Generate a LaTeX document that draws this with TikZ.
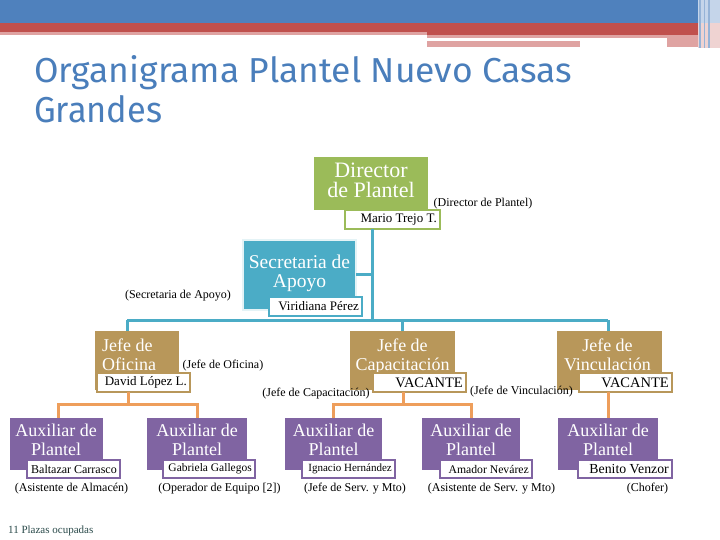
\documentclass[tikz,border=0pt]{standalone}
\usepackage{fontspec}
\setmainfont{Liberation Serif}
\newfontfamily\titlefont{Fira Sans}
\usetikzlibrary{calc}
\definecolor{hblue}{HTML}{4F81BD}
\definecolor{hred}{HTML}{C0504D}
\definecolor{hpink}{HTML}{DFA3A2}
\definecolor{hlpink}{HTML}{EFD3D2}
\definecolor{hlblue}{HTML}{C5D5EA}
\definecolor{hmblue}{HTML}{95B3D7}
\definecolor{titleblue}{HTML}{4A7EBB}
\definecolor{cgreen}{HTML}{9BBB59}
\definecolor{cteal}{HTML}{4BACC6}
\definecolor{cgold}{HTML}{B8975A}
\definecolor{cpurple}{HTML}{8064A2}
\definecolor{corange}{HTML}{EE9E5B}
\definecolor{cfoot}{HTML}{2B4B4B}
\tikzset{
  box/.style={rectangle, inner sep=0pt, outer sep=0pt, fill=#1},
  namebox/.style={rectangle, inner sep=0pt, outer sep=0pt, draw=#1, line width=2pt, fill=white},
  wtxt/.style={text=white, inner sep=0pt, align=center},
  ntxt/.style={inner sep=0pt, anchor=east},
  lbl/.style={inner sep=0pt, anchor=base, font=\fontsize{12}{14}\selectfont},
  tline/.style={draw=cteal, line width=3pt},
  oline/.style={draw=corange, line width=3pt},
}
\begin{document}
\begin{tikzpicture}[x=1pt,y=-1pt]
\useasboundingbox[fill=white] (0,0) rectangle (720,540);
% header bands
\fill[hblue] (0,0) rectangle (698,23);
\fill[hred] (0,23) rectangle (698,32);
\fill[hpink] (0,32) rectangle (427,35);
\fill[hred] (427,32) rectangle (698,35);
\fill[hpink] (427,35) rectangle (698,38);
\fill[hpink] (427,41) rectangle (580,47);
\fill[hpink] (667,38) rectangle (698,47);
\fill[hlblue] (698,0) rectangle (720,23);
\fill[hlpink] (698,23) rectangle (720,48);
\fill[hmblue] (699,0) rectangle (701,48);
\fill[hmblue] (704,0) rectangle (705,48);
\fill[hmblue] (708,0) rectangle (710,48);
% title
\node[anchor=base west, inner sep=0pt, text=titleblue, font=\titlefont] (title1) at (34,83) {\resizebox{538pt}{27pt}{Organigrama Plantel Nuevo Casas}};
\node[anchor=base west, inner sep=0pt, text=titleblue, font=\titlefont] (title2) at (34,123) {\resizebox{128pt}{27pt}{Grandes}};

% Director
\node[box=cgreen, minimum width=114pt, minimum height=53pt] (dir) at (371,183.5) {};
\node[wtxt, anchor=base, font=\fontsize{22}{20}\selectfont] (dirt) at (371,197) {Director\\de Plantel};
\node[namebox=cgreen, minimum width=95pt, minimum height=19pt] (mario) at (392.5,219.5) {};
\node[ntxt, font=\fontsize{13}{15}\selectfont] (mariot) at ($(mario.east)+(-3,0)$) {Mario Trejo T.};
\node[lbl] (dirl) at (483,207) {(Director de Plantel)};

% Secretaria
\node[box=cteal, draw=cteal!15, line width=2pt, minimum width=113pt, minimum height=70pt] (sec) at (299.5,275) {};
\node[wtxt, anchor=base, font=\fontsize{19.5}{19}\selectfont] (sect) at (299.5,287) {Secretaria de\\Apoyo};
\node[namebox=cteal, minimum width=93pt, minimum height=19pt] (vir) at (315.5,306.5) {};
\node[ntxt, font=\fontsize{13}{15}\selectfont] (virt) at ($(vir.east)+(-3,0)$) {Viridiana Pérez};
\node[lbl] (secl) at (178,298) {(Secretaria de Apoyo)};

% Jefes
\node[box=cgold, minimum width=84pt, minimum height=59pt] (jo) at (137,360.5) {};
\node[wtxt, anchor=base west, align=left, font=\fontsize{18}{18.5}\selectfont] (jot) at (102,370) {Jefe de\\Oficina};
\node[namebox=cgold, minimum width=93pt, minimum height=19pt] (dav) at (143.5,382.5) {};
\node[ntxt, font=\fontsize{13}{15}\selectfont] (davt) at ($(dav.east)+(-3,0)$) {David López L.};
\node[lbl] (jol) at (223,368) {(Jefe de Oficina)};

\node[box=cgold, minimum width=105pt, minimum height=59pt] (jc) at (402.5,360.5) {};
\node[wtxt, anchor=base, font=\fontsize{18}{18.5}\selectfont] (jct) at (402.5,370) {Jefe de\\Capacitación};
\node[namebox=cgold, minimum width=93pt, minimum height=19pt] (vc1) at (419.5,382.5) {};
\node[ntxt, font=\fontsize{14.5}{16}\selectfont] (vc1t) at ($(vc1.east)+(-3,0)$) {VACANTE};
\node[lbl] (jcl) at (316,396) {(Jefe de Capacitación)};

\node[box=cgold, minimum width=105pt, minimum height=59pt] (jv) at (609.5,360.5) {};
\node[wtxt, anchor=base, font=\fontsize{18}{18.5}\selectfont] (jvt) at (607.5,370) {Jefe de\\Vinculación};
\node[namebox=cgold, minimum width=93pt, minimum height=19pt] (vc2) at (625.5,382.5) {};
\node[ntxt, font=\fontsize{14.5}{16}\selectfont] (vc2t) at ($(vc2.east)+(-3,0)$) {VACANTE};
\node[lbl] (jvl) at (521.5,394) {(Jefe de Vinculación)};

% Auxiliares
\foreach \n/\cx/\w/\nx/\nw/\name/\fs/\lx/\lab in {
  1/56/93/73.5/93/Baltazar Carrasco/12/71.5/(Asistente de Almacén),
  2/197/100/209/92/Gabriela Gallegos/11.5/219.5/(Operador de Equipo [2]),
  3/333.5/97/348.5/93/Ignacio Hernández/11/355/(Jefe de Serv. y Mto),
  4/471/98/486/92/Amador Nevárez/11.7/491.5/(Asistente de Serv. y Mto),
  5/608/100/625/94/Benito Venzor/13.8/647.5/(Chofer)}{
  \node[box=cpurple, minimum width=\w pt, minimum height=52pt] (a\n) at (\cx,444) {};
  \node[wtxt, anchor=base, font=\fontsize{18}{18.3}\selectfont] (at\n) at (\cx,455) {Auxiliar de\\Plantel};
  \node[namebox=cpurple, minimum width=\nw pt, minimum height=18pt] (n\n) at (\nx,469) {};
  \node[ntxt, font=\fontsize{\fs}{\fs}\selectfont] (nt\n) at ($(n\n.east)+(-3,0)$) {\name};
  \node[lbl] (l\n) at (\lx,491) {\lab};
}

% teal connectors
\coordinate (tj) at (372,320);
\coordinate (ts) at (372,274);
\coordinate (t0) at (127,320);
\coordinate (t1) at (402.5,320);
\coordinate (t2) at (608,320);
\draw[tline] (mario.south -| tj) -- (tj);
\draw[tline] (sec.east |- ts) -- (ts);
\draw[tline] (t0) -- (t2);
\draw[tline] (t0) -- (t0 |- jo.north);
\draw[tline] (t1) -- (jc.north);
\draw[tline] (t2) -- (t2 |- jv.north);

% orange connectors
\coordinate (o0) at (128,404);
\coordinate (oL0) at (58,404);
\coordinate (oR0) at (197,404);
\coordinate (o1) at (403,404);
\coordinate (oL1) at (333.5,404);
\coordinate (oR1) at (471,404);
\draw[oline] (dav.south -| o0) -- (o0);
\draw[oline] (oL0 |- a1.north) -- (oL0) -- (oR0) -- (a2.north);
\draw[oline] (vc1.south -| o1) -- (o1);
\draw[oline] (a3.north) -- (oL1) -- (oR1) -- (a4.north);
\draw[oline] (vc2.south -| a5.north) -- (a5.north);

% footer
\node[anchor=base west, inner sep=0pt, text=cfoot, font=\fontsize{11}{13}\selectfont] (foot) at (8,533) {11 Plazas ocupadas};
\end{tikzpicture}
\end{document}
